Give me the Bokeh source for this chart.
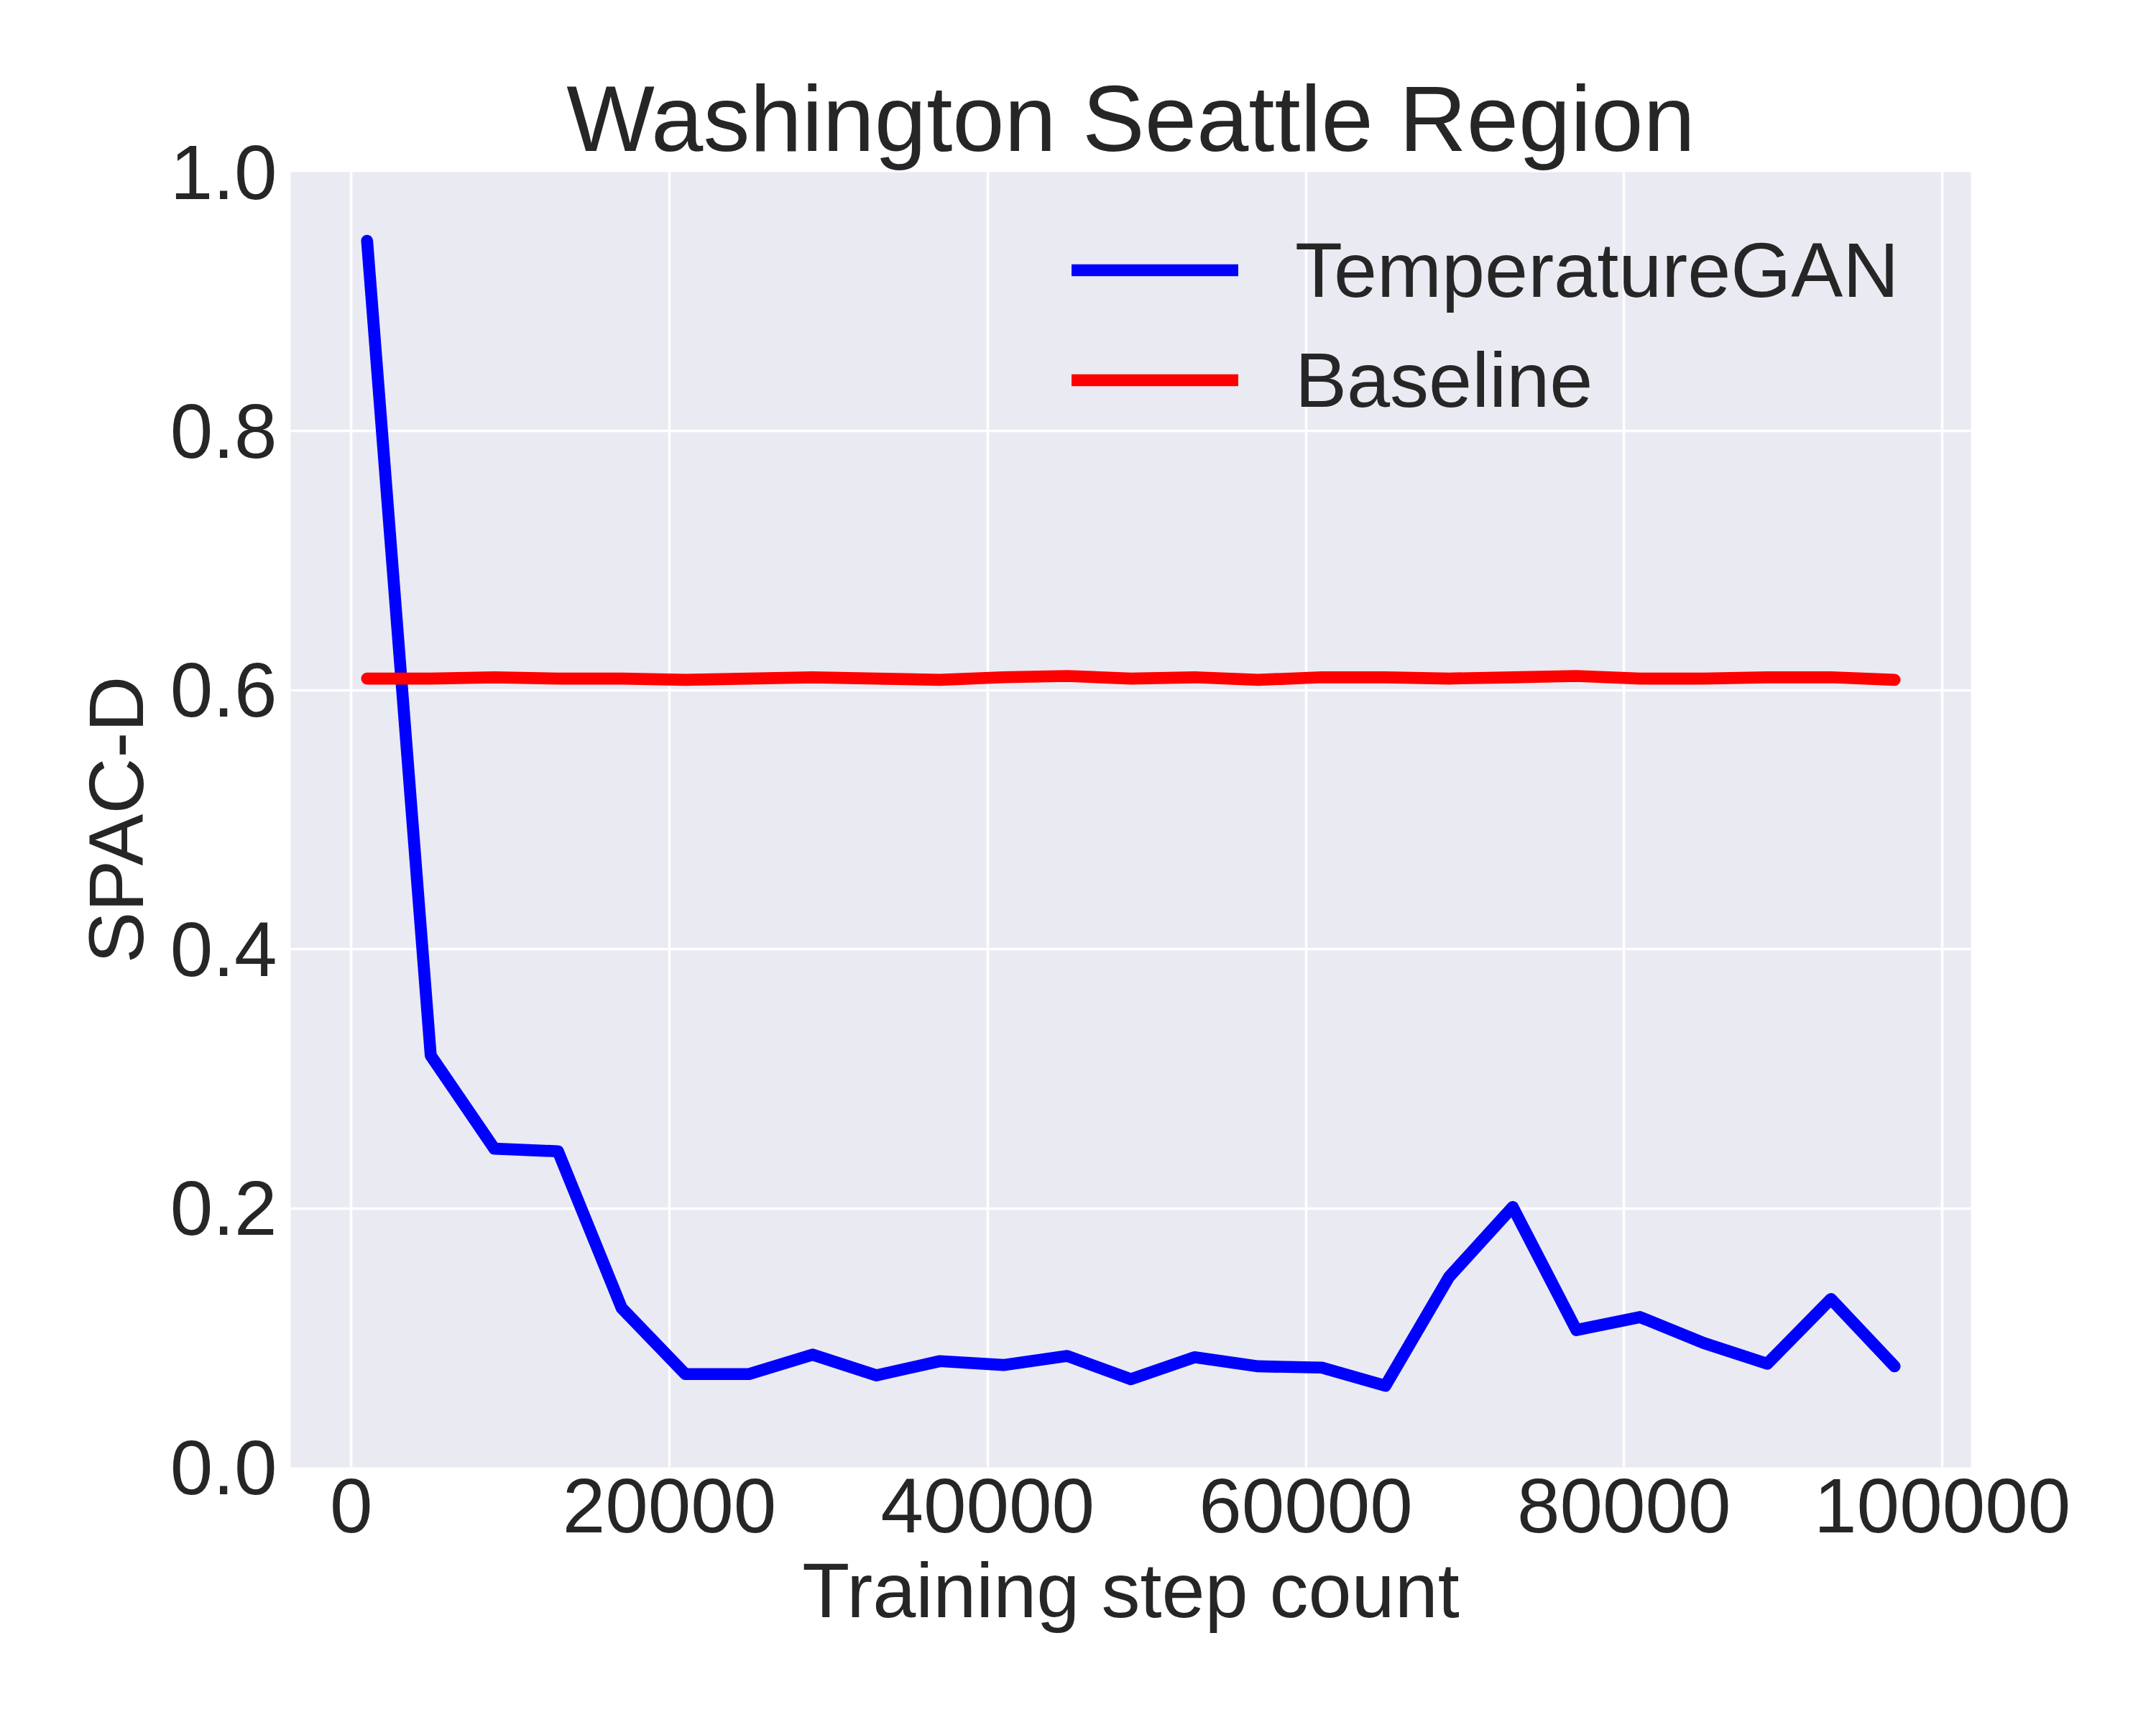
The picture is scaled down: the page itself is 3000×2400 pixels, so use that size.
from bokeh.plotting import figure
from bokeh.models import Range1d, FixedTicker, BasicTickFormatter, PrintfTickFormatter, Legend, LegendItem
from bokeh.embed import file_html
from bokeh.resources import INLINE

steps = [1000, 5000, 9000, 13000, 17000, 21000, 25000, 29000, 33000, 37000,
         41000, 45000, 49000, 53000, 57000, 61000, 65000, 69000, 73000, 77000,
         81000, 85000, 89000, 93000, 97000]
gan = [0.947, 0.318, 0.246, 0.244, 0.123, 0.072, 0.072, 0.087, 0.071, 0.082,
       0.079, 0.086, 0.068, 0.085, 0.078, 0.077, 0.063, 0.147, 0.201, 0.106,
       0.116, 0.096, 0.080, 0.130, 0.078]
baseline = [0.609, 0.609, 0.610, 0.609, 0.609, 0.608, 0.609, 0.610, 0.609, 0.608,
            0.610, 0.611, 0.609, 0.610, 0.608, 0.610, 0.610, 0.609, 0.610, 0.611,
            0.609, 0.609, 0.610, 0.610, 0.608]
x_ticks = [0, 20000, 40000, 60000, 80000, 100000]
y_ticks = [0.0, 0.2, 0.4, 0.6, 0.8, 1.0]

FONT = "Liberation Sans"
TXT = "#262626"

p = figure(width=2984, height=2384, output_backend="svg", toolbar_location=None,
           x_range=Range1d(-3800, 101800), y_range=Range1d(0, 1),
           title="Washington Seattle Region")
p.min_border_left = 404
p.min_border_right = 242
p.min_border_top = 239
p.min_border_bottom = 343
p.background_fill_color = "#EAEAF2"
p.border_fill_color = "white"
p.outline_line_color = None

p.title.text_font = FONT
p.title.text_font_size = "130px"
p.title.text_font_style = "normal"
p.title.text_color = TXT
p.title.align = "center"
p.title.standoff = 4

for ax in (p.xaxis[0], p.yaxis[0]):
    ax.axis_line_color = None
    ax.major_tick_line_color = None
    ax.minor_tick_line_color = None
    ax.major_tick_in = 0
    ax.major_tick_out = 0
    ax.minor_tick_in = 0
    ax.minor_tick_out = 0
    ax.major_label_text_font = FONT
    ax.major_label_text_font_size = "107px"
    ax.major_label_text_color = TXT
    ax.axis_label_text_font = FONT
    ax.axis_label_text_font_size = "108px"
    ax.axis_label_text_color = TXT
    ax.axis_label_text_font_style = "normal"

p.xaxis.ticker = FixedTicker(ticks=x_ticks)
p.xaxis.formatter = BasicTickFormatter(use_scientific=False)
p.yaxis.ticker = FixedTicker(ticks=y_ticks)
p.yaxis.formatter = PrintfTickFormatter(format="%.1f")
p.xaxis.axis_label = "Training step count"
p.yaxis.axis_label = "SPAC-D"
p.xaxis.major_label_standoff = 16
p.xaxis.axis_label_standoff = 17
p.yaxis.major_label_standoff = 19
p.yaxis.axis_label_standoff = 12

p.xgrid.grid_line_color = "white"
p.ygrid.grid_line_color = "white"
p.xgrid.grid_line_width = 3.5
p.ygrid.grid_line_width = 3.5

r1 = p.line(steps, gan, line_color="blue", line_width=16.7, line_cap="round", line_join="round")
r2 = p.line(steps, baseline, line_color="red", line_width=16.7, line_cap="round", line_join="round")

legend = Legend(items=[LegendItem(label="TemperatureGAN", renderers=[r1]),
                       LegendItem(label="Baseline", renderers=[r2])],
                location=(1087, 1436))
legend.background_fill_alpha = 0
legend.border_line_color = None
legend.padding = 0
legend.margin = 0
legend.spacing = 0
legend.glyph_width = 232
legend.glyph_height = 153
legend.label_height = 153
legend.label_standoff = 79
legend.label_text_font = FONT
legend.label_text_font_size = "108px"
legend.label_text_color = TXT
p.add_layout(legend, "center")

open("out.html", "w").write(file_html(p, INLINE))
